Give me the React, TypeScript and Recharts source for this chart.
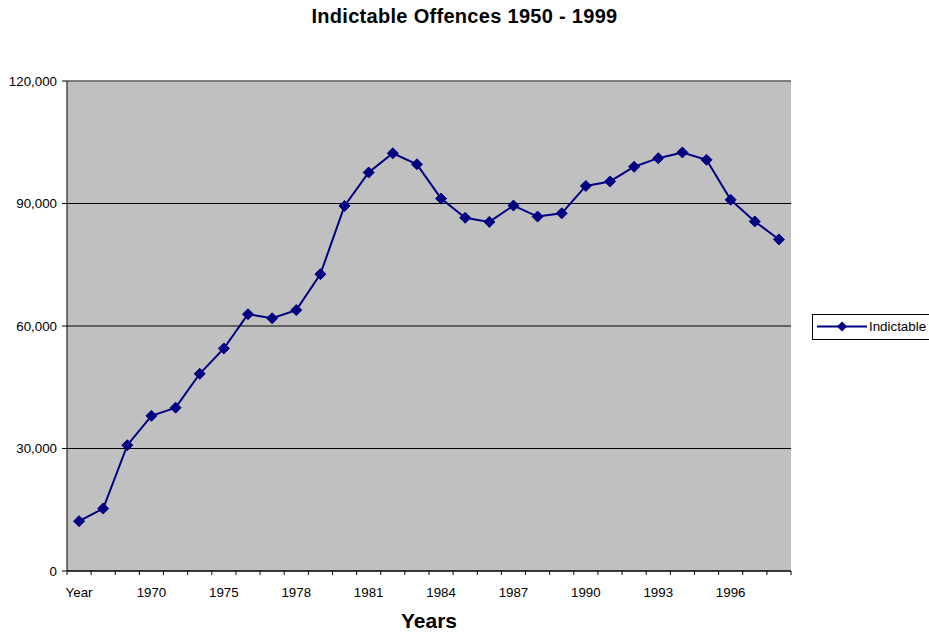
import React from "react";
import { LineChart, Line, XAxis, YAxis, CartesianGrid, Legend, ReferenceLine, Label } from "recharts";

const categories = [
  "Year", "1950", "1960", "1970", "1972", "1974", "1975", "1976", "1977", "1978",
  "1979", "1980", "1981", "1982", "1983", "1984", "1985", "1986", "1987", "1988",
  "1989", "1990", "1991", "1992", "1993", "1994", "1995", "1996", "1997", "1998",
];
const indictable = [
  12200, 15300, 30800, 38000, 40000, 48300, 54500, 62900, 61900, 63900,
  72700, 89400, 97600, 102300, 99600, 91200, 86500, 85500, 89500, 86800,
  87600, 94300, 95400, 99000, 101100, 102500, 100700, 90900, 85600, 81200,
];
const yTicks = [0, 30000, 60000, 90000, 120000];
const seriesName = "Indictable";
const chartTitle = "Indictable Offences 1950 - 1999";
const xTitle = "Years";

const data = categories.map((c, i) => ({ year: c, value: indictable[i] }));

const W = 929;
const H = 634;
const PLOT_LEFT = 67;
const PLOT_RIGHT = 791;
const PLOT_TOP = 81;
const PLOT_BOTTOM = 571;
const BAND = (PLOT_RIGHT - PLOT_LEFT) / categories.length;
const NAVY = "#000080";
const FONT = "'Liberation Sans', Arial, sans-serif";
const FS = 13.33;

const Diamond = (props: any) => {
  const { cx, cy } = props;
  if (cx == null || cy == null) return null;
  const r = 5.5;
  return (
    <polygon
      points={`${cx},${cy - r} ${cx + r},${cy} ${cx},${cy + r} ${cx - r},${cy}`}
      fill={NAVY}
      stroke={NAVY}
      strokeWidth={1}
    />
  );
};

const XTick = (props: any) => {
  const { x, payload, index } = props;
  const i = payload?.index ?? index;
  const last = i === categories.length - 1;
  return (
    <g>
      <line x1={x - BAND / 2} x2={x - BAND / 2} y1={PLOT_BOTTOM} y2={PLOT_BOTTOM + 4} stroke="#000" />
      {last && <line x1={x + BAND / 2} x2={x + BAND / 2} y1={PLOT_BOTTOM} y2={PLOT_BOTTOM + 4} stroke="#000" />}
      {i % 3 === 0 && (
        <text x={x} y={PLOT_BOTTOM + 26} textAnchor="middle" fontSize={FS} fontFamily={FONT} fill="#000">
          {payload.value}
        </text>
      )}
    </g>
  );
};

const LegendBox = () => (
  <svg width={130} height={26} style={{ display: "block" }}>
    <rect x={0.5} y={0.5} width={129} height={25} fill="#fff" stroke="#000" />
    <line x1={5} x2={55} y1={12.5} y2={12.5} stroke={NAVY} strokeWidth={2} />
    <polygon points="30,7.5 35,12.5 30,17.5 25,12.5" fill={NAVY} />
    <text x={57} y={17} fontSize={FS} fontFamily={FONT} fill="#000">{seriesName}</text>
  </svg>
);

export default function App() {
  return (
    <div style={{ position: "absolute", left: 0, top: 0, width: W, height: H, overflow: "hidden", background: "#fff" }}>
      <div
        style={{
          position: "absolute",
          top: 6.4,
          left: 0,
          width: W,
          textAlign: "center",
          fontFamily: FONT,
          fontWeight: "bold",
          fontSize: 20,
          letterSpacing: 0.3,
          lineHeight: "20px",
          color: "#000",
        }}
      >
        {chartTitle}
      </div>
      <LineChart
        width={W}
        height={H}
        data={data}
        margin={{ top: PLOT_TOP, right: W - PLOT_RIGHT, bottom: 0, left: 0 }}
      >
        <CartesianGrid vertical={false} stroke="#000" fill="#C0C0C0" fillOpacity={1} />
        <XAxis
          dataKey="year"
          type="category"
          scale="point"
          padding={{ left: BAND / 2, right: BAND / 2 }}
          interval={0}
          height={H - PLOT_BOTTOM}
          axisLine={{ stroke: "#000" }}
          tickLine={false}
          tickSize={4}
          tickMargin={0}
          tick={<XTick />}
        >
          <Label
            value={xTitle}
            position="insideBottom"
            offset={6}
            style={{ fontFamily: FONT, fontWeight: "bold", fontSize: 21, fill: "#000" }}
          />
        </XAxis>
        <YAxis
          width={PLOT_LEFT}
          domain={[0, 120000]}
          ticks={yTicks}
          interval={0}
          axisLine={{ stroke: "#000" }}
          tickLine={{ stroke: "#000" }}
          tickSize={5}
          tickMargin={5}
          tickFormatter={(v: number) => v.toLocaleString("en-US")}
          tick={{ fontSize: FS, fontFamily: FONT, fill: "#000" }}
        />
        <YAxis
          yAxisId="right"
          orientation="right"
          width={0}
          domain={[0, 120000]}
          tick={false}
          tickLine={false}
          axisLine={{ stroke: "#808080", strokeWidth: 2 }}
        />
        <ReferenceLine y={120000} stroke="#808080" strokeWidth={1.5} />
        <Legend
          layout="horizontal"
          verticalAlign="middle"
          align="center"
          content={<LegendBox />}
          wrapperStyle={{ left: 812, top: 314, width: 130, height: 26 }}
        />
        <Line
          type="linear"
          dataKey="value"
          name={seriesName}
          stroke={NAVY}
          strokeWidth={2}
          dot={<Diamond />}
          activeDot={false}
          isAnimationActive={false}
        />
      </LineChart>
    </div>
  );
}
